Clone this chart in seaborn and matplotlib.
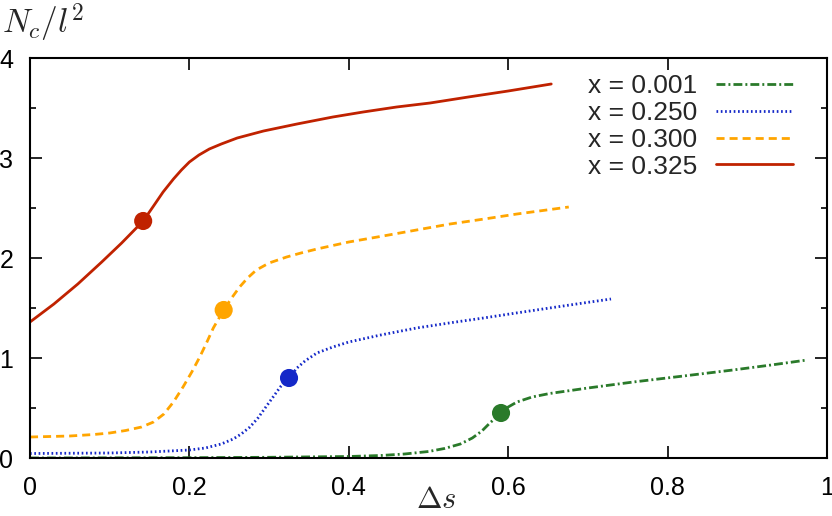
import matplotlib
matplotlib.use('Agg')
import matplotlib.pyplot as plt
import seaborn as sns
import numpy as np
from matplotlib.ticker import MultipleLocator, FixedLocator, FixedFormatter

# x = 0.001
ds_a = [0.0, 0.2, 0.3, 0.4, 0.44, 0.47, 0.5, 0.52, 0.54, 0.555, 0.567, 0.577, 0.591,
        0.6, 0.611, 0.63, 0.652, 0.7, 0.757, 0.82, 0.882, 0.93, 0.975]
n_a = [0.0, 0.003, 0.007, 0.015, 0.025, 0.04, 0.065, 0.095, 0.14, 0.2, 0.27, 0.35, 0.45,
       0.51, 0.56, 0.61, 0.645, 0.70, 0.76, 0.82, 0.88, 0.93, 0.98]

# x = 0.250
ds_b = [0.0, 0.1, 0.15, 0.2, 0.22, 0.24, 0.255, 0.265, 0.276, 0.286, 0.295, 0.305, 0.314,
        0.325, 0.335, 0.345, 0.36, 0.38, 0.40, 0.44, 0.485, 0.53, 0.569, 0.61, 0.652, 0.69, 0.729]
n_b = [0.045, 0.05, 0.06, 0.08, 0.10, 0.14, 0.19, 0.24, 0.31, 0.40, 0.50, 0.61, 0.71,
       0.80, 0.90, 0.97, 1.05, 1.11, 1.16, 1.23, 1.30, 1.355, 1.40, 1.45, 1.50, 1.545, 1.59]

# x = 0.300
ds_c = [0.0, 0.05, 0.08, 0.1, 0.12, 0.14, 0.155, 0.168, 0.18, 0.192, 0.203, 0.213, 0.222,
        0.23, 0.243, 0.253, 0.263, 0.273, 0.284, 0.3, 0.322, 0.34, 0.36, 0.4, 0.443, 0.485,
        0.527, 0.57, 0.611, 0.676]
n_c = [0.21, 0.22, 0.235, 0.25, 0.275, 0.31, 0.36, 0.44, 0.56, 0.71, 0.86, 1.01, 1.16,
       1.30, 1.48, 1.60, 1.71, 1.80, 1.88, 1.95, 2.01, 2.05, 2.09, 2.16, 2.22, 2.28,
       2.34, 2.39, 2.44, 2.51]

# x = 0.325
ds_d = [0.0, 0.03, 0.06, 0.09, 0.115, 0.142, 0.155, 0.167, 0.18, 0.19, 0.2, 0.212, 0.225,
        0.24, 0.26, 0.293, 0.335, 0.38, 0.418, 0.46, 0.502, 0.55, 0.6, 0.654]
n_d = [1.36, 1.54, 1.74, 1.96, 2.15, 2.37, 2.52, 2.66, 2.79, 2.88, 2.96, 3.03, 3.09,
       3.14, 3.20, 3.27, 3.34, 3.41, 3.46, 3.51, 3.55, 3.61, 3.67, 3.74]

labels = ['x = 0.001', 'x = 0.250', 'x = 0.300', 'x = 0.325']
colors = ['#2a7a2a', '#1428c8', '#ffa500', '#c02200']
# marked points on each curve
mark_ds = [0.591, 0.325, 0.243, 0.142]
mark_n = [0.45, 0.80, 1.48, 2.37]

xticks = [0, 0.2, 0.4, 0.6, 0.8, 1]
xticklabels = ['0', '0.2', '0.4', '0.6', '0.8', '1']
yticks = [0, 1, 2, 3, 4]
yticklabels = ['0', '1', '2', '3', '4']

sns.set_style('ticks')
plt.rcParams['font.family'] = ['Liberation Sans', 'DejaVu Sans']
plt.rcParams['mathtext.fontset'] = 'cm'

fig = plt.figure(figsize=(8.32, 5.16), dpi=100)
ax = fig.add_axes([30 / 832, 58 / 516, 797 / 832, 400 / 516])

series = [(ds_a, n_a), (ds_b, n_b), (ds_c, n_c), (ds_d, n_d)]
dashes = [(3.2, 1.1, 0.7, 1.1), (0.6, 0.95), (2.9, 1.8), None]
for (xs, ys), lab, col, dsh in zip(series, labels, colors, dashes):
    sns.lineplot(x=xs, y=ys, color=col, label=lab, ax=ax,
                 estimator=None, sort=False, linewidth=2.0)
    ln = ax.get_lines()[-1]
    ln.set_solid_joinstyle('round')
    if dsh is not None:
        ln.set_dashes(dsh)
        ln.set_dash_capstyle('butt')

sns.scatterplot(x=mark_ds, y=mark_n, hue=labels, palette=colors, s=170,
                edgecolor='none', legend=False, ax=ax, zorder=5)

ax.set_xlim(0, 1)
ax.set_ylim(0, 4)
ax.xaxis.set_major_locator(FixedLocator(xticks))
ax.xaxis.set_major_formatter(FixedFormatter(xticklabels))
ax.yaxis.set_major_locator(FixedLocator(yticks))
ax.yaxis.set_major_formatter(FixedFormatter(yticklabels))
ax.yaxis.set_minor_locator(MultipleLocator(0.5))

ax.tick_params(which='both', direction='in', top=True, right=True, colors='black', width=1.2)
ax.tick_params(which='major', length=8.5, labelsize=18)
ax.tick_params(axis='x', which='major', pad=13)
ax.tick_params(axis='y', which='major', pad=12)
ax.tick_params(which='minor', length=4.5)
for sp in ax.spines.values():
    sp.set_visible(True)
    sp.set_linewidth(1.5)
    sp.set_color('black')

ax.set_xlabel('')
ax.set_ylabel('')
fig.text(436 / 832, 1 / 516, r'$\Delta s$', fontsize=22, ha='center', va='bottom')
fig.text(0.003, 0.996, r'$N_c/l^2$', fontsize=24, ha='left', va='top')

leg = ax.legend(loc='upper right', frameon=False, fontsize=19, handlelength=2.9,
                markerfirst=False, labelspacing=0.11, borderaxespad=0, borderpad=0,
                bbox_to_anchor=(0.957, 0.96), handletextpad=0.72)
for t in leg.get_texts():
    t.set_ha('right')

fig.savefig('out.png', dpi=100)
